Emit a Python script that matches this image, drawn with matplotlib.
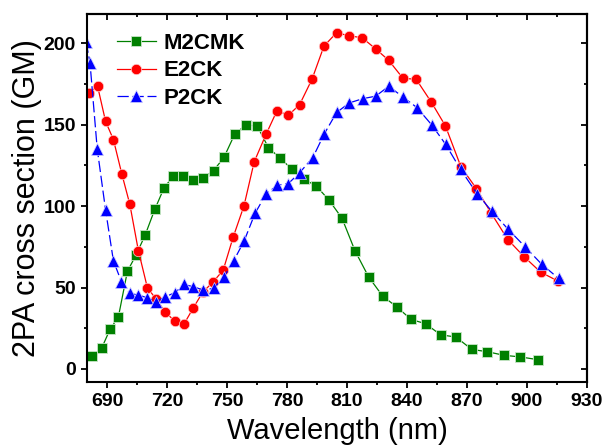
import numpy as np
import matplotlib
matplotlib.use("Agg")
import matplotlib.pyplot as plt
from matplotlib.ticker import MultipleLocator

plt.rcParams['font.family'] = ['Liberation Sans', 'DejaVu Sans']

# M2CMK
wl_m = [682.6, 687.3, 691.5, 695.7, 700.2, 704.4, 709.0, 713.9, 718.6, 723.2,
        728.0, 732.9, 738.0, 743.3, 748.5, 753.8, 759.5, 765.2, 770.7, 776.5,
        782.5, 788.5, 794.7, 801.0, 807.5, 814.0, 820.8, 827.8, 834.8, 842.1,
        849.3, 856.8, 864.5, 872.4, 880.2, 888.5, 896.7, 905.6]
gm_m = [8, 12.7, 24.3, 32, 60, 69.7, 82, 98, 111.4, 118.5,
        118.5, 116, 117.5, 121.8, 130, 144, 150, 149, 136, 129.5,
        122.7, 116.6, 112.3, 103.7, 92.6, 72.6, 56.6, 44.8, 38.2, 30.4,
        27.8, 21, 19.6, 12, 10.6, 8.4, 7.4, 5.7]

# E2CK
wl_e = [681.0, 685.3, 689.3, 693.2, 697.4, 701.4, 705.7, 710.2, 714.7, 719.2,
        723.9, 728.6, 733.2, 737.9, 743.1, 748.1, 753.1, 758.5, 763.6, 769.5,
        775.0, 780.7, 786.3, 792.5, 798.5, 804.8, 811.1, 817.6, 824.3, 830.8,
        838.0, 844.6, 852.2, 859.2, 867.0, 874.7, 882.2, 890.4, 898.6, 906.8,
        915.3]
gm_e = [169.6, 173.6, 152, 140.9, 119.8, 101.2, 72.6, 49.9, 42.7, 34.8,
        29.4, 27.8, 37.6, 47.2, 53.5, 60.7, 81, 100.2, 127.2, 144,
        158.6, 155.8, 162.3, 177.9, 198.3, 206.5, 204.6, 203.4, 196.6, 189.6,
        178.5, 177.9, 163.8, 149.3, 124.1, 110.8, 95.5, 79.5, 68.9, 59.5,
        54.1]

# P2CK
wl_p = [679.5, 681.5, 685.1, 689.3, 693.2, 697.2, 701.4, 705.7, 710.2, 714.7,
        719.2, 723.9, 728.6, 733.2, 738.1, 743.3, 748.3, 753.3, 758.6, 764.0,
        769.5, 775.2, 780.7, 786.3, 792.9, 798.7, 804.8, 811.2, 817.9, 824.3,
        830.9, 838.0, 845.0, 852.3, 859.3, 866.8, 875.0, 882.4, 890.5, 899.0,
        907.3, 915.8]
gm_p = [201, 188, 135.3, 97.5, 66.5, 53.6, 46.4, 45.4, 43.7, 41.3,
        44.4, 46.8, 51.9, 50.5, 48.5, 49.5, 56.3, 66.3, 78.7, 95.5,
        107.4, 112.9, 113.9, 120.5, 129.8, 144.5, 157.5, 163.4, 166, 167.5,
        173.6, 167, 160.5, 150, 138, 122.5, 107.7, 96.9, 85.9, 75.1,
        64.4, 55.6]

fig = plt.figure(figsize=(6.05, 4.48), dpi=100)
ax = fig.add_axes([0.1438, 0.1473, 0.8264, 0.8215])

ax.plot(wl_m, gm_m, color='#008000', lw=0.9, ls='-', marker='s', ms=6.5,
        mec='#c8e6c8', mew=0.6, label='M2CMK')
ax.plot(wl_e, gm_e, color='#ff0000', lw=0.9, ls='-', marker='o', ms=7.5,
        mec='#ffd0d0', mew=0.5, label='E2CK')
ax.plot(wl_p, gm_p, color='#0000ff', lw=0.9, ls=(0, (9, 3)), marker='^', ms=8,
        mec='#d0d0ff', mew=0.5, label='P2CK')

ax.set_xlim(680, 930)
ax.set_ylim(-8, 218)
ax.xaxis.set_major_locator(MultipleLocator(30))
ax.xaxis.set_minor_locator(MultipleLocator(15))
ax.yaxis.set_major_locator(MultipleLocator(50))
ax.yaxis.set_minor_locator(MultipleLocator(25))

for s in ax.spines.values():
    s.set_linewidth(1.5)
ax.tick_params(which='both', direction='out', width=1.3, top=False, right=False)
ax.tick_params(which='major', length=4.5, labelsize=14)
ax.tick_params(which='minor', length=2.5)
# mirrored ticks pointing inward on top and right
ax2 = ax.secondary_xaxis('top')
ax2.xaxis.set_major_locator(MultipleLocator(30))
ax2.xaxis.set_minor_locator(MultipleLocator(15))
ax2.tick_params(which='both', direction='in', width=1.3, labeltop=False)
ax2.tick_params(which='major', length=4.5)
ax2.tick_params(which='minor', length=2.5)
ax3 = ax.secondary_yaxis('right')
ax3.yaxis.set_major_locator(MultipleLocator(50))
ax3.yaxis.set_minor_locator(MultipleLocator(25))
ax3.tick_params(which='both', direction='in', width=1.3, labelright=False)
ax3.tick_params(which='major', length=4.5)
ax3.tick_params(which='minor', length=2.5)
ax2.spines['top'].set_linewidth(1.5)
ax3.spines['right'].set_linewidth(1.5)

for lab in ax.get_xticklabels() + ax.get_yticklabels():
    lab.set_fontweight('bold')

ax.set_xlabel('Wavelength (nm)', fontsize=21, labelpad=5)
ax.set_ylabel('2PA cross section (GM)', fontsize=22, labelpad=1)

leg = ax.legend(loc='upper left', bbox_to_anchor=(0.033, 0.985), frameon=False,
                prop={'size': 16, 'weight': 'bold'}, handlelength=1.75,
                handletextpad=0.35, labelspacing=0.3, borderaxespad=0.2)

fig.savefig('out.png', dpi=100)
